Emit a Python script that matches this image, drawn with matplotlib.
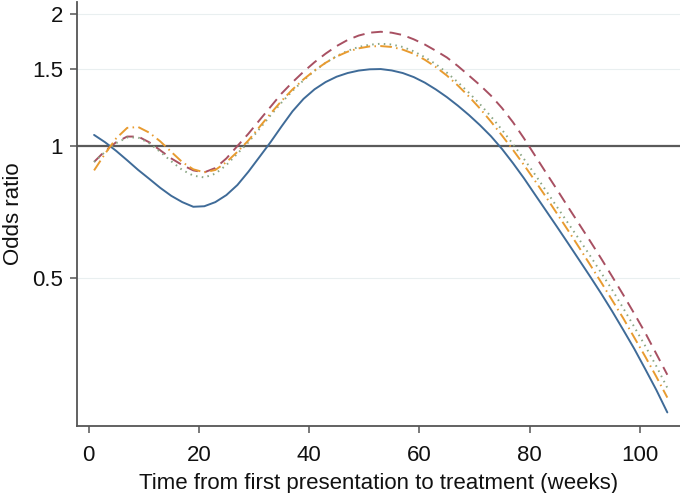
import matplotlib
matplotlib.use("Agg")
import matplotlib.pyplot as plt
from matplotlib.ticker import FixedLocator, FixedFormatter, NullLocator

weeks = [1, 3, 5, 7, 9, 11, 13, 15, 17, 19, 21, 23, 25, 27, 29, 31, 33, 35, 37, 39,
         41, 43, 45, 47, 49, 51, 53, 55, 57, 59, 61, 63, 65, 67, 69, 71, 73, 75, 77, 79,
         81, 83, 85, 87, 89, 91, 93, 95, 97, 99, 101, 103, 105]

or_solid = [1.060, 1.020, 0.975, 0.928, 0.882, 0.842, 0.803, 0.770, 0.745, 0.727,
            0.729, 0.745, 0.773, 0.815, 0.874, 0.944, 1.020, 1.108, 1.200, 1.281,
            1.347, 1.399, 1.439, 1.467, 1.486, 1.496, 1.498, 1.487, 1.467, 1.436,
            1.395, 1.346, 1.293, 1.236, 1.177, 1.116, 1.053, 0.985, 0.914, 0.844,
            0.775, 0.712, 0.654, 0.600, 0.550, 0.504, 0.461, 0.420, 0.381, 0.345,
            0.310, 0.278, 0.247]

or_dashed = [0.920, 0.975, 1.020, 1.051, 1.051, 1.020, 0.978, 0.937, 0.905, 0.880,
             0.871, 0.891, 0.937, 1.000, 1.067, 1.145, 1.228, 1.317, 1.398, 1.477,
             1.553, 1.624, 1.690, 1.745, 1.786, 1.813, 1.822, 1.813, 1.791, 1.751,
             1.704, 1.649, 1.592, 1.522, 1.448, 1.377, 1.303, 1.221, 1.133, 1.041,
             0.951, 0.869, 0.795, 0.726, 0.664, 0.607, 0.554, 0.504, 0.458, 0.415,
             0.375, 0.336, 0.301]

or_dotted = [0.920, 0.970, 1.015, 1.046, 1.046, 1.015, 0.970, 0.923, 0.882, 0.856,
             0.848, 0.865, 0.905, 0.961, 1.020, 1.094, 1.174, 1.256, 1.336, 1.412,
             1.484, 1.548, 1.603, 1.649, 1.682, 1.702, 1.711, 1.704, 1.682, 1.644,
             1.594, 1.537, 1.470, 1.398, 1.323, 1.246, 1.168, 1.089, 1.010, 0.934,
             0.861, 0.791, 0.726, 0.667, 0.613, 0.562, 0.514, 0.470, 0.427, 0.387,
             0.350, 0.315, 0.281]

or_dashdot = [0.880, 0.961, 1.041, 1.100, 1.105, 1.073, 1.025, 0.970, 0.919, 0.885,
              0.871, 0.882, 0.919, 0.970, 1.030, 1.105, 1.185, 1.267, 1.346, 1.419,
              1.487, 1.548, 1.600, 1.641, 1.670, 1.687, 1.690, 1.682, 1.659, 1.623,
              1.573, 1.514, 1.448, 1.374, 1.297, 1.218, 1.137, 1.057, 0.980, 0.905,
              0.833, 0.765, 0.701, 0.642, 0.587, 0.536, 0.489, 0.445, 0.405, 0.366,
              0.331, 0.298, 0.267]

x_ticks = [0, 20, 40, 60, 80, 100]
y_ticks = [0.5, 1, 1.5, 2]
y_tick_labels = ["0.5", "1", "1.5", "2"]

plt.rcParams['font.family'] = ['Liberation Sans', 'DejaVu Sans']

W, H = 680, 493
fig = plt.figure(figsize=(W / 100, H / 100), dpi=100)
ax = fig.add_axes([77 / W, (H - 426) / H, (680 - 77) / W, (426 - 2) / H])

ax.set_yscale('log')
ax.set_xlim(-2.1, 107.3)
ax.set_ylim(0.230, 2.13)

for yv in [0.5, 1.5, 2]:
    ax.axhline(yv, color='#e9eff0', lw=0.8, zorder=0)
ax.axhline(1, color='#5a5a5a', lw=1.6, zorder=1)

ax.plot(weeks, or_solid, color='#3f6b98', lw=1.4, solid_capstyle='round', zorder=3)
ax.plot(weeks, or_dashed, color='#a85062', lw=1.4, dashes=(6, 3.5), zorder=3)
ax.plot(weeks, or_dotted, color='#8aa684', lw=1.4, dashes=(0.8, 2.2), zorder=3)
ax.plot(weeks, or_dashdot, color='#e89b30', lw=1.4, dashes=(6, 2.2, 0.8, 2.2), zorder=3)

ax.yaxis.set_major_locator(FixedLocator(y_ticks))
ax.yaxis.set_major_formatter(FixedFormatter(y_tick_labels))
ax.yaxis.set_minor_locator(NullLocator())
ax.set_xticks(x_ticks)

for s in ['top', 'right']:
    ax.spines[s].set_visible(False)
for s in ['left', 'bottom']:
    ax.spines[s].set_color('#555555')
    ax.spines[s].set_linewidth(1.3)

ax.tick_params(axis='both', which='major', direction='out', length=5, width=1.1,
               color='#555555', labelsize=16, labelcolor='#111111')
ax.tick_params(axis='x', pad=9)
ax.tick_params(axis='y', pad=5)

ax.set_xlabel('Time from first presentation to treatment (weeks)', fontsize=16,
              color='#111111', labelpad=5)
ax.set_ylabel('Odds ratio', fontsize=16, color='#111111', labelpad=6)

fig.savefig('out.png', dpi=100)
